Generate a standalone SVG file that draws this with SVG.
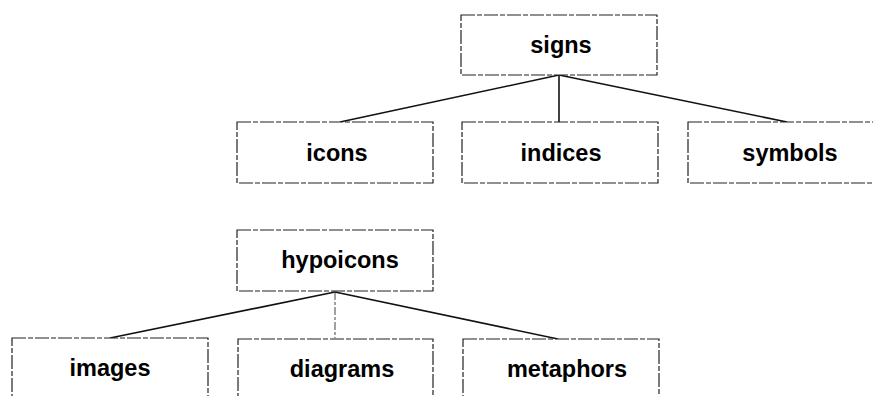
<svg xmlns="http://www.w3.org/2000/svg" width="873" height="396" viewBox="0 0 873 396">
<style>
.box{fill:#fff;stroke:#222;stroke-width:1.2;stroke-dasharray:14 2 5 2}
.lbl{font-family:"Liberation Sans",Arial,sans-serif;font-weight:bold;font-size:23.5px;fill:#000;text-anchor:middle}
.ln{stroke:#111;stroke-width:1.6;fill:none}
.ln2{stroke:#444;stroke-width:1;fill:none;stroke-dasharray:8 2 3 2}
</style>
<rect width="873" height="396" fill="#fff"/>
<g id="connectors">
<line class="ln" x1="559" y1="75" x2="340" y2="122"/>
<line class="ln" x1="559" y1="75" x2="559" y2="122"/>
<line class="ln" x1="559" y1="75" x2="787" y2="122"/>
<line class="ln" x1="335" y1="292" x2="110" y2="338"/>
<line class="ln2" x1="335" y1="292" x2="335" y2="338"/>
<line class="ln" x1="335" y1="292" x2="558" y2="339"/>
</g>
<g id="signs"><rect class="box" x="461" y="15" width="196" height="60"/><text class="lbl" x="561" y="53">signs</text></g>
<g id="icons"><rect class="box" x="237" y="122" width="196" height="61"/><text class="lbl" x="337" y="161">icons</text></g>
<g id="indices"><rect class="box" x="462" y="122" width="196" height="61"/><text class="lbl" x="561" y="161">indices</text></g>
<g id="symbols"><rect class="box" x="688" y="122" width="196" height="61"/><text class="lbl" x="790" y="161">symbols</text></g>
<g id="hypoicons"><rect class="box" x="237" y="230" width="196" height="61"/><text class="lbl" x="340" y="268">hypoicons</text></g>
<g id="images"><rect class="box" x="12" y="338" width="196" height="61"/><text class="lbl" x="110" y="376">images</text></g>
<g id="diagrams"><rect class="box" x="238" y="339" width="195" height="61"/><text class="lbl" x="342" y="377">diagrams</text></g>
<g id="metaphors"><rect class="box" x="463" y="339" width="196" height="61"/><text class="lbl" x="567" y="377">metaphors</text></g>
</svg>
